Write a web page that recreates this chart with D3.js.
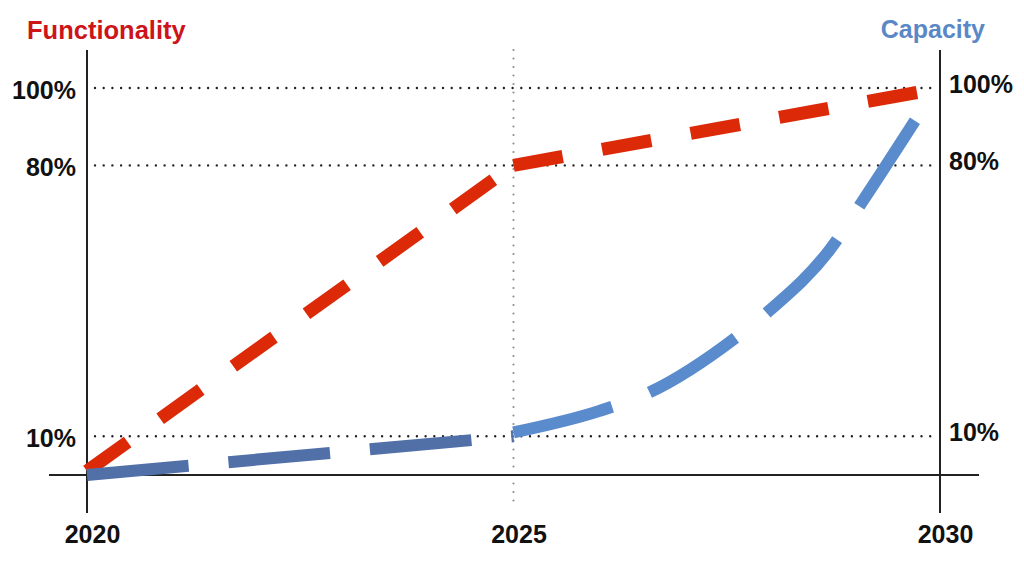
<!DOCTYPE html>
<html>
<head>
<meta charset="utf-8">
<script src="https://cdn.jsdelivr.net/npm/d3@7"></script>
<style>
  html, body { margin: 0; padding: 0; background: #fff; }
  svg { display: block; }
  text { font-family: "Liberation Sans", Arial, Helvetica, sans-serif; font-weight: bold; }
</style>
</head>
<body>
<svg id="chart" width="1024" height="567"></svg>
<script>
// ---- data ----
const xTicks = [2020, 2025, 2030];
const yTicks = [10, 80, 100];
const yTickLabels = ["10%", "80%", "100%"];
const leftTitle = "Functionality";
const rightTitle = "Capacity";

const functionalityEarlyYears  = [2020, 2025];
const functionalityEarlyValues = [1, 80];
const functionalityLateYears   = [2025, 2029.77];
const functionalityLateValues  = [80, 99];

const capacityEarlyYears  = [2020, 2025];
const capacityEarlyValues = [0, 10];

const capacityLateYears  = [2025, 2026, 2026.6, 2027.6, 2028, 2028.7, 2029.1, 2029.72];
const capacityLateValues = [11, 16.5, 21.4, 35.4, 42.5, 58, 71, 92];

// ---- layout ----
const W = 1024, H = 567;
const svg = d3.select("#chart");
svg.append("rect").attr("width", W).attr("height", H).attr("fill", "#fff");

const x = d3.scaleLinear().domain([2020, 2030]).range([87, 940]);
const y = d3.scaleLinear().domain([0, 100]).range([475, 88]);

const axisTop = 50, axisBottom = 513;

// horizontal dotted gridlines
svg.append("g").selectAll("line").data(yTicks).join("line")
  .attr("x1", 95).attr("x2", 934)
  .attr("y1", d => y(d)).attr("y2", d => y(d))
  .attr("stroke", "#222").attr("stroke-width", 2.4)
  .attr("stroke-linecap", "round").attr("stroke-dasharray", "0,8.7");

// vertical dotted 2025 line
svg.append("line")
  .attr("x1", x(2025)).attr("x2", x(2025))
  .attr("y1", axisTop).attr("y2", 507)
  .attr("stroke", "#8a8f99").attr("stroke-width", 2.2)
  .attr("stroke-linecap", "round").attr("stroke-dasharray", "0,8.5");

// axis lines
svg.append("line").attr("x1", 49).attr("x2", 979).attr("y1", y(0)).attr("y2", y(0))
  .attr("stroke", "#222").attr("stroke-width", 2);
[2020, 2030].forEach(v => {
  svg.append("line").attr("x1", x(v)).attr("x2", x(v)).attr("y1", axisTop).attr("y2", axisBottom)
    .attr("stroke", "#222").attr("stroke-width", 2);
});

// series lines
const line = d3.line().x(d => x(d[0])).y(d => y(d[1]));
const curved = d3.line().x(d => x(d[0])).y(d => y(d[1])).curve(d3.curveMonotoneX);

[[functionalityEarlyYears, functionalityEarlyValues], [functionalityLateYears, functionalityLateValues]]
  .forEach(([ys, vs]) => {
    svg.append("path")
      .datum(d3.zip(ys, vs))
      .attr("d", line).attr("fill", "none")
      .attr("stroke", "#dc2a08").attr("stroke-width", 13)
      .attr("stroke-dasharray", "50,40").attr("stroke-linecap", "butt");
  });

svg.append("path")
  .datum(d3.zip(capacityEarlyYears, capacityEarlyValues))
  .attr("d", line).attr("fill", "none")
  .attr("stroke", "#5170a8").attr("stroke-width", 12)
  .attr("stroke-dasharray", "102,40").attr("stroke-linecap", "butt");

svg.append("path")
  .datum(d3.zip(capacityLateYears, capacityLateValues))
  .attr("d", curved).attr("fill", "none")
  .attr("stroke", "#5a8bcc").attr("stroke-width", 12)
  .attr("stroke-dasharray", "102,40").attr("stroke-linecap", "butt");

// axes labels
const fmt = d => yTickLabels[yTicks.indexOf(d)];
const gl = svg.append("g").attr("transform", `translate(${x(2020)},0)`)
  .call(d3.axisLeft(y).tickValues(yTicks).tickFormat(fmt).tickSize(0).tickPadding(11));
const gr = svg.append("g").attr("transform", `translate(${x(2030)},0)`)
  .call(d3.axisRight(y).tickValues(yTicks).tickFormat(fmt).tickSize(0).tickPadding(9));
const gb = svg.append("g").attr("transform", `translate(5,${y(0)})`)
  .call(d3.axisBottom(x).tickValues(xTicks).tickFormat(d3.format("d")).tickSize(0).tickPadding(50));

[gl, gr, gb].forEach(g => {
  g.select(".domain").remove();
  g.selectAll("text").attr("fill", "#111").style("font-size", "25px")
    .style("font-family", "'Liberation Sans', Arial, sans-serif").style("font-weight", "bold");
});
gl.selectAll("text").attr("dy", "0.4em");
gr.selectAll("text").attr("dy", "0.16em");

// titles
svg.append("text").attr("x", 27).attr("y", 39).attr("fill", "#cc1419")
  .style("font-size", "25.5px").text(leftTitle);
svg.append("text").attr("x", 985).attr("y", 38).attr("text-anchor", "end").attr("fill", "#5a88c6")
  .style("font-size", "25px").text(rightTitle);
</script>
</body>
</html>
